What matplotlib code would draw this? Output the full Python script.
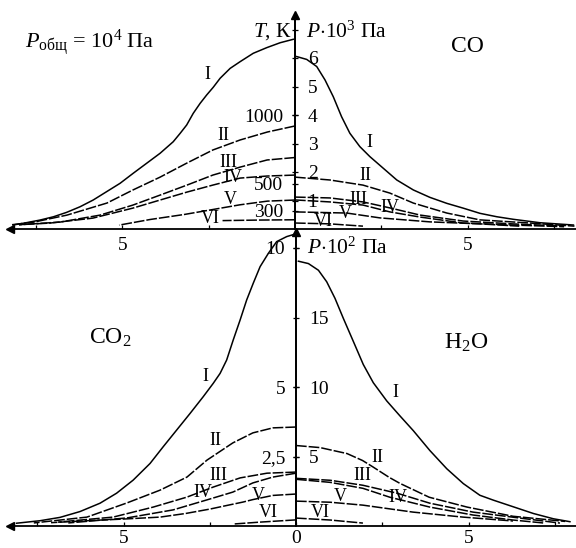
import matplotlib

matplotlib.use("Agg")
import matplotlib.pyplot as plt

plt.rcParams["font.family"] = ["Liberation Serif", "DejaVu Serif"]
plt.rcParams["mathtext.fontset"] = "custom"
plt.rcParams["mathtext.rm"] = "Liberation Serif"
plt.rcParams["mathtext.it"] = "Liberation Serif:italic"

W, H = 576, 548

CURVES = ["I", "II", "III", "IV", "V", "VI"]

# top panel, left half: temperature T, K vs distance
tl_d = {
    "I": [0.05, 0.43, 0.82, 1.21, 1.59, 1.88, 2.17, 2.37, 2.56, 2.75, 2.95, 3.14, 3.33, 3.53,
          3.91, 4.3, 4.69, 5.07, 5.46, 5.85, 6.23, 6.62, 7.0, 7.39, 7.78, 8.17],
    "II": [0, 0.8, 1.59, 2.38, 3.13, 3.91, 4.7, 5.45, 6.61, 7.57, 8.2],
    "III": [0, 0.81, 1.59, 2.38, 3.13, 3.91, 4.7, 5.65, 6.81, 8.0],
    "IV": [0, 0.81, 1.59, 2.38, 3.13, 3.91, 4.7, 5.86, 7.1, 8.0],
    "V": [0, 0.8, 1.6, 2.4, 3.2, 4.2, 5.1],
    "VI": [0, 1.0, 2.1],
}
tl_T = {
    "I": [1552, 1527, 1491, 1450, 1389, 1340, 1268, 1202, 1146, 1085, 1012, 927, 866, 805,
          721, 648, 575, 502, 441, 380, 331, 290, 258, 234, 215, 198],
    "II": [920, 876, 818, 745, 650, 547, 453, 358, 270, 219, 200],
    "III": [690, 672, 620, 562, 489, 416, 343, 270, 219, 200],
    "IV": [562, 555, 540, 489, 438, 380, 321, 248, 212, 200],
    "V": [380, 372, 345, 310, 275, 238, 197],
    "VI": [236, 234, 230],
}

# top panel, right half: CO pressure, P*10^3 Pa
tr_d = {
    "I": [0.05, 0.34, 0.63, 0.87, 1.11, 1.35, 1.59, 1.88, 2.17, 2.56, 2.95, 3.43, 3.91, 4.4,
          4.88, 5.36, 5.85, 6.33, 7.1, 8.07],
    "II": [0, 1.01, 1.97, 2.75, 3.43, 4.4, 5.36, 6.8, 8.1],
    "III": [0, 1.01, 1.97, 2.75, 3.62, 4.87, 6.3, 7.8],
    "IV": [0, 1.01, 1.97, 2.75, 3.62, 4.87, 6.3, 7.8],
    "V": [0, 1.5, 2.46, 3.91, 5.36, 6.5],
    "VI": [0, 1.01, 1.97],
}
tr_P = {
    "I": [6.05, 5.95, 5.7, 5.23, 4.64, 3.94, 3.36, 2.89, 2.54, 2.13, 1.72, 1.37, 1.11, 0.9,
          0.73, 0.55, 0.43, 0.34, 0.22, 0.14],
    "II": [1.82, 1.72, 1.54, 1.26, 0.91, 0.56, 0.32, 0.21, 0.1],
    "III": [1.12, 1.09, 0.95, 0.74, 0.49, 0.28, 0.18, 0.1],
    "IV": [1.02, 0.95, 0.84, 0.6, 0.42, 0.21, 0.14, 0.08],
    "V": [0.6, 0.56, 0.39, 0.25, 0.18, 0.1],
    "VI": [0.21, 0.18, 0.1],
}

# bottom panel, left half: CO2 pressure, P*10^2 Pa
bl_d = {
    "I": [0.03, 0.27, 0.56, 0.8, 1.04, 1.24, 1.43, 1.62, 1.82, 2.01, 2.2, 2.4, 2.69, 3.07,
          3.46, 3.85, 4.23, 4.72, 5.2, 5.68, 6.26, 6.84, 7.42, 8.1],
    "II": [0, 0.67, 1.25, 1.83, 2.58, 3.16, 3.94, 4.9, 6.06, 7.6],
    "III": [0, 0.84, 1.62, 2.4, 3.16, 4.14, 5.3, 6.9],
    "IV": [0, 0.67, 1.25, 1.83, 2.58, 3.56, 4.9, 6.6],
    "V": [0, 0.67, 1.25, 1.54, 2.0, 2.49, 3.2, 3.94, 5.0, 5.9, 7.1],
    "VI": [0, 1.04, 1.83],
}
bl_P = {
    "I": [10.5, 10.41, 10.23, 9.81, 9.33, 8.73, 8.13, 7.41, 6.69, 5.97, 5.49, 5.13, 4.65, 4.05,
          3.45, 2.85, 2.25, 1.65, 1.18, 0.82, 0.52, 0.31, 0.19, 0.1],
    "II": [3.56, 3.53, 3.35, 2.99, 2.37, 1.76, 1.29, 0.83, 0.32, 0.11],
    "III": [1.94, 1.9, 1.73, 1.4, 1.04, 0.68, 0.32, 0.14],
    "IV": [1.9, 1.76, 1.55, 1.22, 0.94, 0.58, 0.29, 0.11],
    "V": [1.15, 1.1, 0.95, 0.86, 0.74, 0.61, 0.45, 0.32, 0.25, 0.2, 0.12],
    "VI": [0.22, 0.14, 0.07],
}

# bottom panel, right half: H2O pressure, P*10^2 Pa
br_d = {
    "I": [0.07, 0.36, 0.65, 0.89, 1.13, 1.37, 1.66, 1.95, 2.24, 2.63, 3.01, 3.4, 3.88, 4.37,
          4.85, 5.33, 5.72, 6.3, 6.88, 7.46, 7.94],
    "II": [0, 0.7, 1.48, 1.93, 2.23, 2.7, 3.01, 3.86, 4.96, 6.29, 7.8],
    "III": [0, 0.99, 1.94, 2.93, 3.88, 5.13, 6.49, 7.65],
    "IV": [0, 0.99, 1.94, 2.72, 3.88, 5.13, 6.29, 7.2],
    "V": [0, 0.99, 1.94, 3.39, 4.84, 6.29],
    "VI": [0, 0.99, 1.94],
}
br_P = {
    "I": [19.05, 18.88, 18.4, 17.57, 16.38, 14.95, 13.29, 11.62, 10.31, 9.0, 7.93, 6.86, 5.43,
          4.12, 3.05, 2.21, 1.86, 1.38, 0.9, 0.52, 0.31],
    "II": [5.79, 5.64, 5.21, 4.71, 4.25, 3.5, 3.07, 2.07, 1.36, 0.7, 0.33],
    "III": [3.43, 3.29, 2.93, 2.36, 1.64, 1.0, 0.57, 0.21],
    "IV": [3.36, 3.14, 2.71, 2.07, 1.36, 0.79, 0.43, 0.21],
    "V": [1.79, 1.71, 1.5, 1.0, 0.64, 0.36],
    "VI": [0.57, 0.43, 0.21],
}

t_ticks = [300, 500, 1000]
co_ticks = [1, 2, 3, 4, 5, 6, 7]
co2_ticks = [2.5, 5, 10]
co2_labels = ["2,5", "5", "10"]
h2o_ticks = [5, 10, 15, 20]

SOLID = "-"
DASH = (0, (7, 1.3))
FS_NUM = 14
FS_TXT = 15.5


def px_rect(left, right, top, bottom):
    return [left / W, 1 - bottom / H, (right - left) / W, (bottom - top) / H]


def half_axes(fig, rect, xlim, ylim, side):
    ax = fig.add_axes(rect)
    ax.set_xlim(*xlim)
    ax.set_ylim(*ylim)
    ax.patch.set_visible(False)
    ax.spines["top"].set_visible(False)
    hidden = "left" if side == "left" else "right"
    ax.spines[hidden].set_visible(False)
    for s in ("bottom", "right" if side == "left" else "left"):
        ax.spines[s].set_linewidth(1.3)
    if side == "left":
        ax.yaxis.tick_right()
    else:
        ax.yaxis.tick_left()
    ax.tick_params(axis="x", direction="in", length=3, width=0.9, labelsize=FS_NUM)
    ax.tick_params(axis="y", direction="inout", length=5, width=0.9, labelsize=FS_NUM)
    return ax


def draw_curves(ax, ds, vals):
    for name in CURVES:
        ls = SOLID if name == "I" else DASH
        ax.plot(ds[name], vals[name], color="black", lw=1.1, linestyle=ls, clip_on=False)


def roman(ax, pos):
    for name, (x, y) in pos.items():
        ax.text(x, y, name, fontsize=13, ha="center", va="center")


fig = plt.figure(figsize=(W / 100, H / 100), dpi=100)

DX = 34.5
# top panel geometry (pixels)
cx_t, base_t, top_t = 295, 229, 15
t_lo = 1000 - (base_t - 115) / 0.13714
t_hi = 1000 + (115 - top_t) / 0.13714

ax_tl = half_axes(fig, px_rect(10, cx_t, top_t, base_t), ((cx_t - 10) / DX, 0), (t_lo, t_hi), "left")
ax_tr = half_axes(fig, px_rect(cx_t, W, top_t, base_t), (0, (W - cx_t) / DX), (0, (base_t - top_t) / 28.5), "right")

# bottom panel geometry (pixels)
cx_b, base_b, top_b = 296, 526, 232
co2_hi = (base_b - top_b) / 27.8
ax_bl = half_axes(fig, px_rect(10, cx_b, top_b, base_b), ((cx_b - 10) / DX, 0), (0, co2_hi), "left")
ax_br = half_axes(fig, px_rect(cx_b, W, top_b, base_b), (0, (W - cx_b) / DX), (0, 2 * co2_hi), "right")

draw_curves(ax_tl, tl_d, tl_T)
draw_curves(ax_tr, tr_d, tr_P)
draw_curves(ax_bl, bl_d, bl_P)
draw_curves(ax_br, br_d, br_P)

# y ticks on the central axes
ax_tl.set_yticks(t_ticks)
ax_tl.set_yticklabels([str(v) for v in t_ticks], ha="right")
ax_tl.tick_params(axis="y", pad=-10.8)

ax_tr.set_yticks(co_ticks)
ax_tr.set_yticklabels([str(v) if v < 7 else "" for v in co_ticks], ha="left")
ax_tr.tick_params(axis="y", pad=-11.6)

ax_bl.set_yticks(co2_ticks)
ax_bl.set_yticklabels(co2_labels, ha="right")
ax_bl.tick_params(axis="y", pad=-10.2)

ax_br.set_yticks(h2o_ticks)
ax_br.set_yticklabels([str(v) if v < 20 else "" for v in h2o_ticks], ha="left")
ax_br.tick_params(axis="y", pad=-12.0)

# x ticks
for ax in (ax_tl, ax_tr):
    ax.set_xticks([2.5, 5, 7.5])
    ax.set_xticklabels(["", "5", ""])
    ax.tick_params(axis="x", pad=5.5)
ax_bl.set_xticks([2.5, 5, 7.5])
ax_bl.set_xticklabels(["", "5", ""])
ax_br.set_xticks([0, 2.5, 5, 7.5])
ax_br.set_xticklabels(["0", "", "5", ""])
for ax in (ax_bl, ax_br):
    ax.tick_params(axis="x", pad=3)

# arrows
for ax in (ax_tl, ax_bl):
    ax.plot(0, 0, marker="<", color="black", ms=6, transform=ax.transAxes, clip_on=False)
for ax in (ax_tr, ax_br):
    ax.plot(0, 1, marker="^", color="black", ms=6, transform=ax.transAxes, clip_on=False)

roman(ax_tl, {"I": (2.55, 1292), "II": (2.09, 854), "III": (1.94, 657),
              "IV": (1.8, 547), "V": (1.88, 387), "VI": (2.46, 248)})
roman(ax_tr, {"I": (2.17, 3.02), "II": (2.03, 1.89), "III": (1.83, 1.02),
              "IV": (2.75, 0.74), "V": (1.45, 0.56), "VI": (0.81, 0.25)})
roman(ax_bl, {"I": (2.64, 5.36), "II": (2.35, 3.09), "III": (2.26, 1.83),
              "IV": (2.7, 1.19), "V": (1.1, 1.08), "VI": (0.81, 0.5)})
roman(ax_br, {"I": (2.87, 9.57), "II": (2.35, 4.93), "III": (1.91, 3.64),
              "IV": (2.96, 2.07), "V": (1.28, 2.14), "VI": (0.7, 1.0)})


def ftext(x, y, s, size=FS_TXT, **kw):
    fig.text(x / W, 1 - y / H, s, fontsize=size, va="center", **kw)


ftext(25, 43, r"$P_{\mathrm{общ}}$ = 10$^4$ Па", size=16, ha="left")
ftext(292, 32, r"$T$, К", ha="right")
ftext(306, 32, r"$P$$\cdot$10$^3$ Па", ha="left")
ftext(467, 47, "CO", size=17, ha="center")
ftext(110, 338, r"CO$_2$", size=17, ha="center")
ftext(466, 343, r"H$_2$O", size=17, ha="center")
ftext(307, 248, r"$P$$\cdot$10$^2$ Па", ha="left")

fig.savefig("out.png", dpi=100)
